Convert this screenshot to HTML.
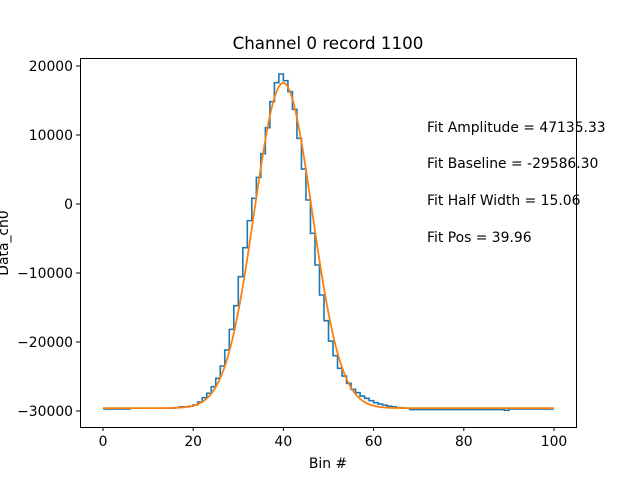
<!DOCTYPE html>
<html><head><meta charset="utf-8"><style>
body{margin:0;background:#fff}
text{font-family:"DejaVu Sans","Liberation Sans",sans-serif;fill:#000}
</style></head><body>
<svg id="chart" width="640" height="480" viewBox="0 0 640 480">
<rect width="640" height="480" fill="#fff"/>
<text x="328" y="49" font-size="16.7" text-anchor="middle">Channel 0 record 1100</text>
<g id="plot"></g>
<rect x="80.5" y="58.5" width="496" height="369" fill="none" stroke="#000" stroke-width="1"/>
<g id="axes" font-size="13.9"></g>
<text x="328" y="468" font-size="13.9" text-anchor="middle">Bin #</text>
<text transform="translate(8,243) rotate(-90)" font-size="13.9" text-anchor="middle">Data_ch0</text>
<g font-size="13.9">
<text x="427" y="132">Fit Amplitude = 47135.33</text>
<text x="427" y="168">Fit Baseline = -29586.30</text>
<text x="427" y="205">Fit Half Width = 15.06</text>
<text x="427" y="242">Fit Pos = 39.96</text>
</g>
</svg>
<script>
const xTicks=[0,20,40,60,80,100];
const yTicks=[20000,10000,0,-10000,-20000,-30000];
const yTickLabels=["20000","10000","0","\u221210000","\u221220000","\u221230000"];
const dataValues=[
-29700,-29700,-29700,-29700,-29700,-29700,-29600,-29600,-29600,-29600,
-29600,-29600,-29600,-29600,-29600,-29600,-29500,-29400,-29400,-29300,
-29100,-28700,-28070,-27440,-26470,-25270,-23480,-21160,-18170,-14730,
-10530,-6330,-2410,820,3860,7300,11060,14830,17580,18840,
17870,16280,13720,9520,5070,580,-4250,-8840,-13190,-16910,
-19860,-21980,-23820,-24930,-25990,-26860,-27340,-27830,-28160,-28500,
-28790,-29000,-29150,-29300,-29400,-29500,-29550,-29600,-29800,-29800,
-29800,-29800,-29800,-29800,-29800,-29800,-29800,-29800,-29800,-29800,
-29800,-29800,-29800,-29800,-29800,-29800,-29800,-29800,-29800,-29900,
-29700,-29700,-29700,-29700,-29700,-29700,-29700,-29700,-29700,-29700];
const fitAmplitude=47135.33, fitBaseline=-29586.30, fitHalfWidth=15.06, fitPos=39.96;
const xs=v=>103+(v-0)*4.51;
const ys=v=>204-v*0.0069;
const NS="http://www.w3.org/2000/svg";
const plot=document.getElementById('plot'), axes=document.getElementById('axes');
let d="";
dataValues.forEach((v,i)=>{
  d+=(i===0?"M":"L")+xs(i).toFixed(2)+","+ys(v).toFixed(2)+" L"+xs(i+1).toFixed(2)+","+ys(v).toFixed(2)+" ";
});
const p=document.createElementNS(NS,'path');
p.setAttribute('d',d);p.setAttribute('fill','none');p.setAttribute('stroke','#1f77b4');p.setAttribute('stroke-width','1.6');


plot.appendChild(p);
let f="";
for(let x=0;x<=100;x+=0.25){
  const y=fitBaseline+fitAmplitude*Math.exp(-4*Math.LN2*(x-fitPos)*(x-fitPos)/(fitHalfWidth*fitHalfWidth));
  f+=(x===0?"M":"L")+xs(x).toFixed(2)+","+ys(y).toFixed(2)+" ";
}
const fp=document.createElementNS(NS,'path');
fp.setAttribute('d',f);fp.setAttribute('fill','none');fp.setAttribute('stroke','#ff7f0e');fp.setAttribute('stroke-width','1.8');


plot.appendChild(fp);
xTicks.forEach(t=>{
  const l=document.createElementNS(NS,'line');
  l.setAttribute('x1',xs(t));l.setAttribute('x2',xs(t));l.setAttribute('y1',427);l.setAttribute('y2',431);l.setAttribute('stroke','#000');
  
  
  axes.appendChild(l);
  const tx=document.createElementNS(NS,'text');
  tx.setAttribute('x',xs(t));tx.setAttribute('y',446);tx.setAttribute('text-anchor','middle');tx.textContent=t;
  
  
  axes.appendChild(tx);
});
yTicks.forEach((t,i)=>{
  const l=document.createElementNS(NS,'line');
  l.setAttribute('x1',76);l.setAttribute('x2',80);l.setAttribute('y1',ys(t));l.setAttribute('y2',ys(t));l.setAttribute('stroke','#000');
  
  
  axes.appendChild(l);
  const tx=document.createElementNS(NS,'text');
  tx.setAttribute('x',73);tx.setAttribute('y',ys(t)+5);tx.setAttribute('text-anchor','end');tx.textContent=yTickLabels[i];
  
  
  axes.appendChild(tx);
});
</script>
</body></html>
